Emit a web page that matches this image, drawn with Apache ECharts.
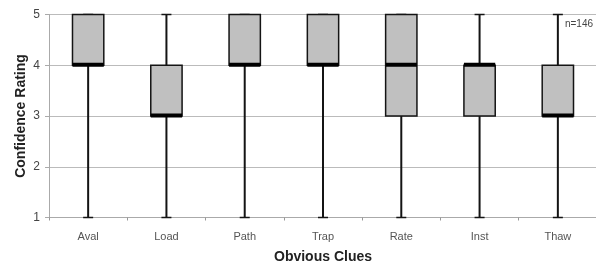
<!DOCTYPE html>
<html>
<head>
<meta charset="utf-8">
<style>
  html, body { margin: 0; padding: 0; background: #fff; }
  #chart { width: 596px; height: 263px; }
</style>
<script src="https://cdn.jsdelivr.net/npm/echarts@6/dist/echarts.min.js"></script>
</head>
<body>
<div id="chart"></div>
<script>
// Box plot of confidence ratings per obvious clue (n=146)
const categories = ['Aval', 'Load', 'Path', 'Trap', 'Rate', 'Inst', 'Thaw'];
const lowVals    = [1, 1, 1, 1, 1, 1, 1];
const q1Vals     = [4, 3, 4, 4, 3, 3, 3];
const medianVals = [4, 3, 4, 4, 4, 4, 3];
const q3Vals     = [5, 4, 5, 5, 5, 4, 4];
const highVals   = [5, 5, 5, 5, 5, 5, 5];
const yTicks     = [1, 2, 3, 4, 5];
const sampleNote = 'n=146';

const FONT = '"Liberation Sans", Arial, sans-serif';
const INK = '#141414';

const boxData = categories.map((c, i) =>
  [i, lowVals[i], q1Vals[i], medianVals[i], q3Vals[i], highVals[i]]);

function renderBox(params, api) {
  const i = api.value(0);
  const low = api.coord([i, api.value(1)]);
  const q1  = api.coord([i, api.value(2)]);
  const med = api.coord([i, api.value(3)]);
  const q3  = api.coord([i, api.value(4)]);
  const high = api.coord([i, api.value(5)]);
  const x = low[0];
  const boxW = api.size([1, 0])[0] * 0.4;
  const capW = 10;
  return {
    type: 'group',
    children: [
      { type: 'line', shape: { x1: x, y1: low[1], x2: x, y2: high[1] },
        style: { stroke: INK, lineWidth: 2 } },
      { type: 'line', shape: { x1: x - capW / 2, y1: low[1], x2: x + capW / 2, y2: low[1] },
        style: { stroke: INK, lineWidth: 1.5 } },
      { type: 'line', shape: { x1: x - capW / 2, y1: high[1], x2: x + capW / 2, y2: high[1] },
        style: { stroke: INK, lineWidth: 1.5 } },
      { type: 'rect', shape: { x: x - boxW / 2, y: q3[1], width: boxW, height: q1[1] - q3[1] },
        style: { fill: '#c0c0c0', stroke: INK, lineWidth: 1.5 } },
      { type: 'line', shape: { x1: x - boxW / 2, y1: med[1] - 0.5, x2: x + boxW / 2, y2: med[1] - 0.5 },
        style: { stroke: '#000', lineWidth: 4 } }
    ]
  };
}

const chart = echarts.init(document.getElementById('chart'));
chart.setOption({
  animation: false,
  backgroundColor: '#fff',
  title: {
    text: sampleNote,
    right: 3, top: 19, padding: 0,
    textStyle: { fontFamily: FONT, fontSize: 10, fontWeight: 'normal', color: '#444' }
  },
  grid: { left: 49, top: 14.5, width: 548, bottom: 45.5, outerBoundsMode: 'none' },
  xAxis: {
    type: 'category',
    data: categories,
    boundaryGap: true,
    name: 'Obvious Clues',
    nameLocation: 'middle',
    nameGap: 33,
    nameMoveOverlap: false,
    nameTextStyle: { fontFamily: FONT, fontSize: 14, fontWeight: 'bold', color: '#222' },
    axisLine: { lineStyle: { color: '#aaa', width: 1 } },
    axisTick: { show: true, length: 3, lineStyle: { color: '#999' } },
    axisLabel: { fontFamily: FONT, fontSize: 11, color: '#555', margin: 14 },
    splitLine: { show: false }
  },
  yAxis: {
    type: 'value',
    min: yTicks[0], max: yTicks[yTicks.length - 1], interval: 1,
    name: 'Confidence Rating',
    nameLocation: 'middle',
    nameGap: 21,
    nameMoveOverlap: false,
    nameTextStyle: { fontFamily: FONT, fontSize: 14, fontWeight: 'bold', color: '#222' },
    axisLine: { show: true, lineStyle: { color: '#aaa', width: 1 } },
    axisTick: { show: true, length: 4, lineStyle: { color: '#aaa' } },
    axisLabel: { fontFamily: FONT, fontSize: 12, color: '#444', margin: 9 },
    splitLine: { lineStyle: { color: '#bbb', width: 1 } }
  },
  series: [{
    type: 'custom',
    renderItem: renderBox,
    data: boxData,
    encode: { x: 0, y: [1, 2, 3, 4, 5] },
    clip: false,
    z: 3
  }]
});
</script>
</body>
</html>
